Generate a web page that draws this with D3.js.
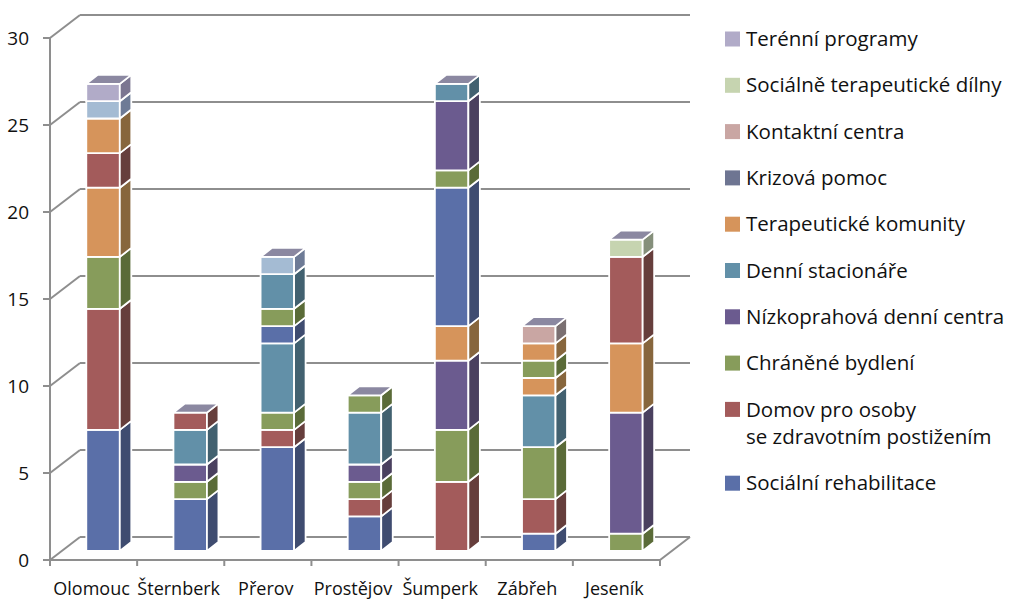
<!DOCTYPE html>
<html>
<head>
<meta charset="utf-8">
<script src="https://cdn.jsdelivr.net/npm/d3@7"></script>
<style>
  body { margin: 0; background: #fff; }
  text { font-family: "Open Sans", sans-serif; fill: #111; }
</style>
</head>
<body>
<div class="chart"></div>
<script>
var categories = ["Olomouc", "Šternberk", "Přerov", "Prostějov", "Šumperk", "Zábřeh", "Jeseník"];

// stacked series, bottom to top (colour key, values per category)
var seriesKeys = ["blue", "red", "green", "purple", "teal", "orange",
                  "blue", "red", "green", "purple", "teal", "orange",
                  "lightblue", "pink", "lightgreen", "lavender"];
var seriesValues = [
  [7, 3, 6, 2, 0, 1, 0],
  [7, 0, 1, 1, 4, 2, 0],
  [3, 1, 1, 1, 3, 3, 1],
  [0, 1, 0, 1, 4, 0, 7],
  [0, 2, 4, 3, 0, 3, 0],
  [4, 0, 0, 0, 2, 1, 4],
  [0, 0, 1, 0, 8, 0, 0],
  [2, 1, 0, 0, 0, 0, 5],
  [0, 0, 1, 1, 1, 1, 0],
  [0, 0, 0, 0, 4, 0, 0],
  [0, 0, 2, 0, 1, 0, 0],
  [2, 0, 0, 0, 0, 1, 0],
  [1, 0, 1, 0, 0, 0, 0],
  [0, 0, 0, 0, 0, 1, 0],
  [0, 0, 0, 0, 0, 0, 1],
  [1, 0, 0, 0, 0, 0, 0]
];

// legend, top to bottom
var legendNames = ["Terénní programy", "Sociálně terapeutické dílny", "Kontaktní centra",
  "Krizová pomoc", "Terapeutické komunity", "Denní stacionáře", "Nízkoprahová denní centra",
  "Chráněné bydlení", "Domov pro osoby\nse zdravotním postižením", "Sociální rehabilitace"];
var legendKeys = ["lavender", "lightgreen", "pink", "slate", "orange", "teal", "purple",
  "green", "red", "blue"];

var yTicks = [0, 5, 10, 15, 20, 25, 30];

var front = {
  blue: "#5a6fa8", red: "#a35b5b", green: "#879c5b", purple: "#6b5b8f", teal: "#6290a8",
  orange: "#d6945b", lightblue: "#a4bbd3", pink: "#c9a6a3", lightgreen: "#c6d4b0",
  lavender: "#b1abc8", slate: "#6e7592"
};
var side = {
  blue: "#3f4c70", red: "#663e3c", green: "#5a6b38", purple: "#4a405f", teal: "#426170",
  orange: "#87663d", lightblue: "#6e7b96", pink: "#7a6f71", lightgreen: "#858f7b",
  lavender: "#7b7691", slate: "#4c5166"
};
var capColor = "#8b88a1";

var width = 1011, height = 601;
var svg = d3.select(".chart").append("svg")
    .attr("width", width)
    .attr("height", height);

var x = d3.scaleBand().domain(categories).range([50, 660]);
var yFront = d3.scaleLinear().domain([0, 30]).range([560, 38]);
var yBack = d3.scaleLinear().domain([0, 30]).range([537, 15]);
var yBar = d3.scaleLinear().domain([0, 30]).range([551, 32]);
var wallDx = 30;
var barDx = 11.5, barDy = -9, barOff = 36.3, barW = 33.5;

var grid = svg.append("g")
    .attr("fill", "none")
    .attr("stroke", "#8e8e8e")
    .attr("stroke-width", 2);

grid.selectAll(".back")
  .data(yTicks)
  .enter().append("line")
    .attr("x1", 50 + wallDx).attr("x2", 660 + wallDx)
    .attr("y1", function(d) { return yBack(d); })
    .attr("y2", function(d) { return yBack(d); });

grid.selectAll(".diag")
  .data(yTicks)
  .enter().append("line")
    .attr("x1", 50).attr("x2", 50 + wallDx)
    .attr("y1", function(d) { return yFront(d); })
    .attr("y2", function(d) { return yBack(d); });

grid.selectAll(".ytick")
  .data(yTicks)
  .enter().append("line")
    .attr("x1", 43).attr("x2", 50)
    .attr("y1", function(d) { return yFront(d); })
    .attr("y2", function(d) { return yFront(d); });

grid.append("line")
    .attr("x1", 50).attr("x2", 50)
    .attr("y1", yFront(30)).attr("y2", yFront(0) + 6);

grid.append("polyline")
    .attr("points", [[50, yFront(0)], [660, yFront(0)], [660 + wallDx, yBack(0)]].join(" "));

grid.selectAll(".xtick")
  .data(categories.concat([null]))
  .enter().append("line")
    .attr("x1", function(d) { return d ? x(d) : x.range()[1]; })
    .attr("x2", function(d) { return d ? x(d) : x.range()[1]; })
    .attr("y1", yFront(0)).attr("y2", yFront(0) + 6);

svg.selectAll(".ylab")
  .data(yTicks)
  .enter().append("text")
    .attr("x", 29)
    .attr("y", function(d) { return yFront(d); })
    .attr("dy", "0.35em")
    .attr("text-anchor", "end")
    .attr("font-size", 19)
    .text(function(d) { return d; });

svg.selectAll(".xlab")
  .data(categories)
  .enter().append("text")
    .attr("x", function(d) { return x(d) + x.bandwidth() / 2 - 2; })
    .attr("y", 595)
    .attr("text-anchor", "middle")
    .attr("font-size", 18)
    .text(function(d) { return d; });

// bars
categories.forEach(function(cat, ci) {
  var x0 = x(cat) + barOff, x1 = x0 + barW;
  var g = svg.append("g").attr("stroke", "#fff").attr("stroke-width", 1.8)
      .attr("stroke-linejoin", "round");
  var base = 0;
  seriesValues.forEach(function(vals, si) {
    var v = vals[ci];
    if (!v) return;
    var yb = yBar(base), yt = yBar(base + v);
    var key = seriesKeys[si];
    g.append("rect")
        .attr("x", x0).attr("y", yt)
        .attr("width", barW).attr("height", yb - yt)
        .attr("fill", front[key]);
    g.append("polygon")
        .attr("points", [[x1, yb], [x1, yt], [x1 + barDx, yt + barDy], [x1 + barDx, yb + barDy]].join(" "))
        .attr("fill", side[key]);
    base += v;
  });
  var top = yBar(base);
  g.append("polygon")
      .attr("points", [[x0, top], [x0 + barDx, top + barDy], [x1 + barDx, top + barDy], [x1, top]].join(" "))
      .attr("fill", capColor);
});

// legend
var itemY = 39;
legendNames.forEach(function(name, i) {
  var lines = name.split("\n");
  svg.append("rect")
      .attr("x", 725).attr("y", itemY - 7.5)
      .attr("width", 15).attr("height", 15)
      .attr("fill", front[legendKeys[i]]);
  var t = svg.append("text")
      .attr("x", 746).attr("y", itemY)
      .attr("font-size", 20.5);
  lines.forEach(function(l, li) {
    t.append("tspan").attr("x", 746).attr("dy", li ? 27.5 : "0.35em").text(l);
  });
  itemY += 46.3 + (lines.length - 1) * 27.5;
});
</script>
</body>
</html>
